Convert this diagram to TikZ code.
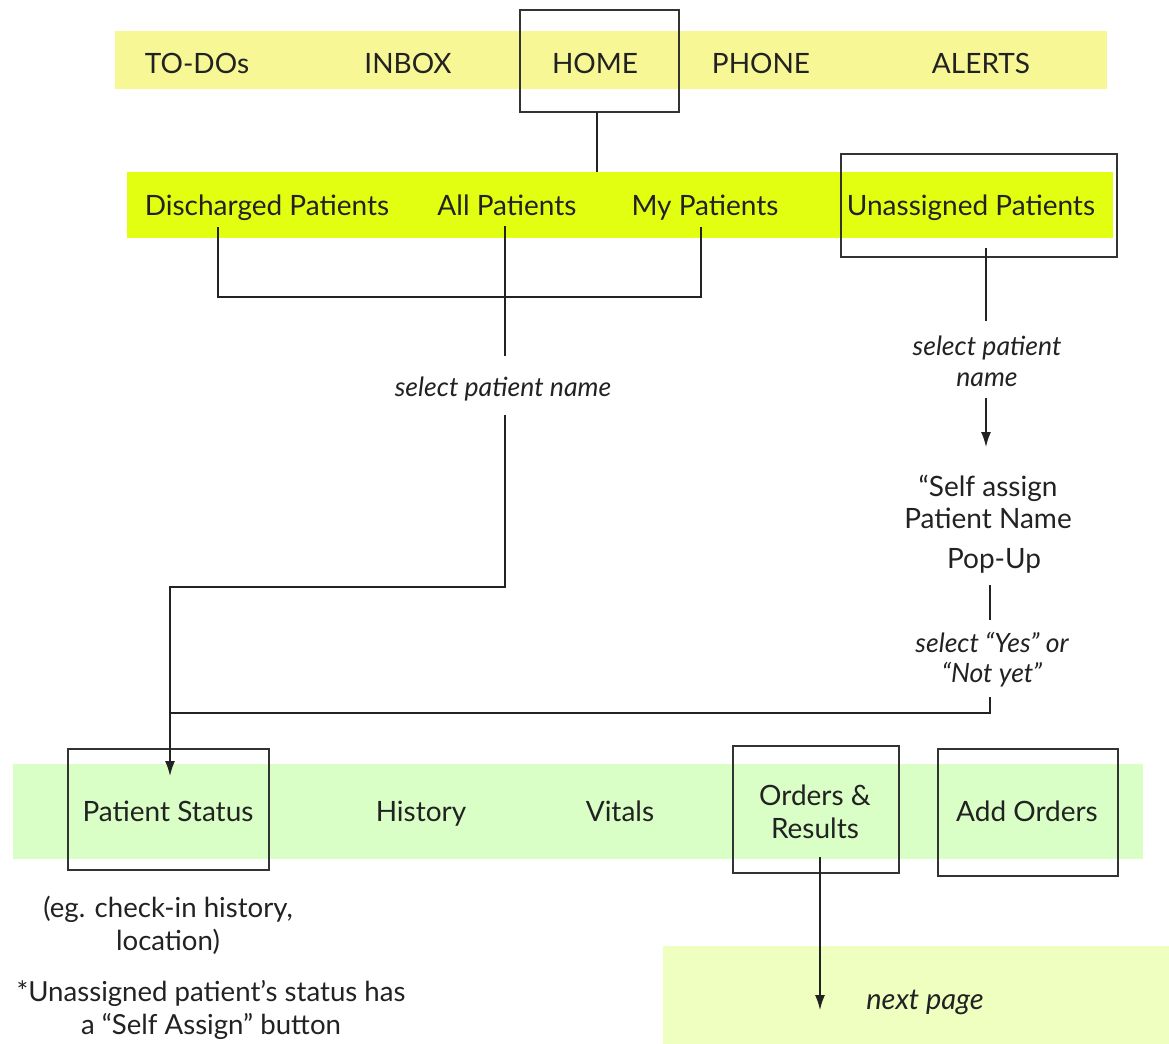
\documentclass[tikz,border=0pt]{standalone}
\usepackage{fontspec}
\setmainfont{Lato}
\usetikzlibrary{arrows.meta}
\definecolor{barA}{HTML}{F7F796}
\definecolor{barB}{HTML}{E2FF12}
\definecolor{barC}{HTML}{D9FFC6}
\definecolor{barD}{HTML}{EFFFC0}
\definecolor{ink}{HTML}{222222}
\definecolor{frameC}{HTML}{333333}
\begin{document}
\begin{tikzpicture}[x=0.5pt,y=-0.5pt,
  bar/.style={inner sep=0pt, outer sep=0pt},
  lbl/.style={text=ink, inner sep=0pt, anchor=base, align=center, font=\fontsize{14}{16.5}\selectfont},
  note/.style={text=ink, inner sep=0pt, anchor=base, align=center, font=\fontsize{13.3}{15.5}\selectfont\itshape},
  foot/.style={text=ink, inner sep=0pt, anchor=base, align=center, font=\fontsize{13.8}{16.5}\selectfont},
  frame/.style={draw=frameC, line width=0.75pt, inner sep=0pt},
  conn/.style={draw=ink, line width=0.75pt},
  arr/.style={conn, -{Latex[length=7.5pt,width=5pt]}}]
\useasboundingbox (0,0) rectangle (1169,1044);
% bars
\node[bar, fill=barA, minimum width=496pt, minimum height=29pt] (bar1) at (611,60) {};
\node[bar, fill=barB, minimum width=493pt, minimum height=33pt] (bar2) at (620,205) {};
\node[bar, fill=barC, minimum width=565pt, minimum height=47.5pt] (bar3) at (578,811.5) {};
\node[bar, fill=barD, minimum width=253pt, minimum height=49pt] (bar4) at (916,995) {};
% frames
\node[frame, minimum width=79.5pt, minimum height=51pt] (homebox) at (599.5,61) {};
\node[frame, minimum width=138pt, minimum height=51.5pt] (unbox) at (979,205.5) {};
\node[frame, minimum width=100.5pt, minimum height=60.5pt] (psbox) at (168.5,809.5) {};
\node[frame, minimum width=83pt, minimum height=63.5pt] (orbox) at (816,809.5) {};
\node[frame, minimum width=90pt, minimum height=63.5pt] (adbox) at (1028,812.5) {};
% top bar labels
\node[lbl] (todo) at (197,73) {TO-DOs};
\node[lbl] (inbox) at (408,73) {INBOX};
\node[lbl] (home) at (595,73) {HOME};
\node[lbl] (phone) at (761,73) {PHONE};
\node[lbl] (alerts) at (981,73) {ALERTS};
% second bar labels
\node[lbl] (dis) at (267,215) {Discharged Patients};
\node[lbl] (all) at (507,215) {All Patients};
\node[lbl] (my) at (705,215) {My Patients};
\node[lbl] (un) at (971,215) {Unassigned Patients};
% middle notes
\node[note] (sel1) at (503,396) {select patient name};
\node[note] (sel2) at (987,386) {select patient\\name};
\node[lbl, font=\fontsize{14}{16}\selectfont] (pop) at (988,568) {“Self assign\\Patient Name\\[4pt]\hspace*{6pt}Pop-Up};
\node[note, font=\fontsize{13.3}{15}\selectfont\itshape] (sel3) at (992,682) {select “Yes” or\\“Not yet”};
% bottom bar labels
\node[lbl] (ps) at (168,821) {Patient Status};
\node[lbl] (hist) at (421,821) {History};
\node[lbl] (vit) at (620,821) {Vitals};
\node[lbl] (ord) at (815,838) {Orders \&\\Results};
\node[lbl] (add) at (1027,821) {Add Orders};
% footnotes
\node[foot] (eg) at (168,950) {(eg. check-in history,\\location)};
\node[foot] (star) at (211,1034) {*Unassigned patient’s status has\\a “Self Assign” button};
\node[note, font=\fontsize{14.5}{16}\selectfont\itshape] (next) at (925,1009) {next page};
% connector points
\coordinate (hb) at (597,112);
\coordinate (b2t) at (597,172);
\coordinate (disb) at (218,227);
\coordinate (myb) at (701,227);
\coordinate (allb) at (505,226);
\coordinate (selt) at (505,356);
\coordinate (selb) at (505,415);
\coordinate (junc) at (505,587);
\coordinate (psin) at (170,776);
\coordinate (unb) at (986,248);
\coordinate (sel2t) at (986,321);
\coordinate (sel2b) at (986,398);
\coordinate (popt) at (986,447);
\coordinate (popb) at (990,585);
\coordinate (sel3t) at (990,620);
\coordinate (sel3b) at (990,697);
\coordinate (merge) at (170,713);
\coordinate (orb) at (820,857);
\coordinate (nxt) at (820,1010);
% connectors
\draw[conn] (hb) -- (b2t);
\draw[conn] (disb) |- (459,297) -| (myb);
\draw[conn] (allb) -- (selt);
\draw[arr] (selb) -- (junc) -| (psin);
\draw[conn] (unb) -- (sel2t);
\draw[arr] (sel2b) -- (popt);
\draw[conn] (popb) -- (sel3t);
\draw[conn] (sel3b) |- (merge);
\draw[arr] (orb) -- (nxt);
\end{tikzpicture}
\end{document}
